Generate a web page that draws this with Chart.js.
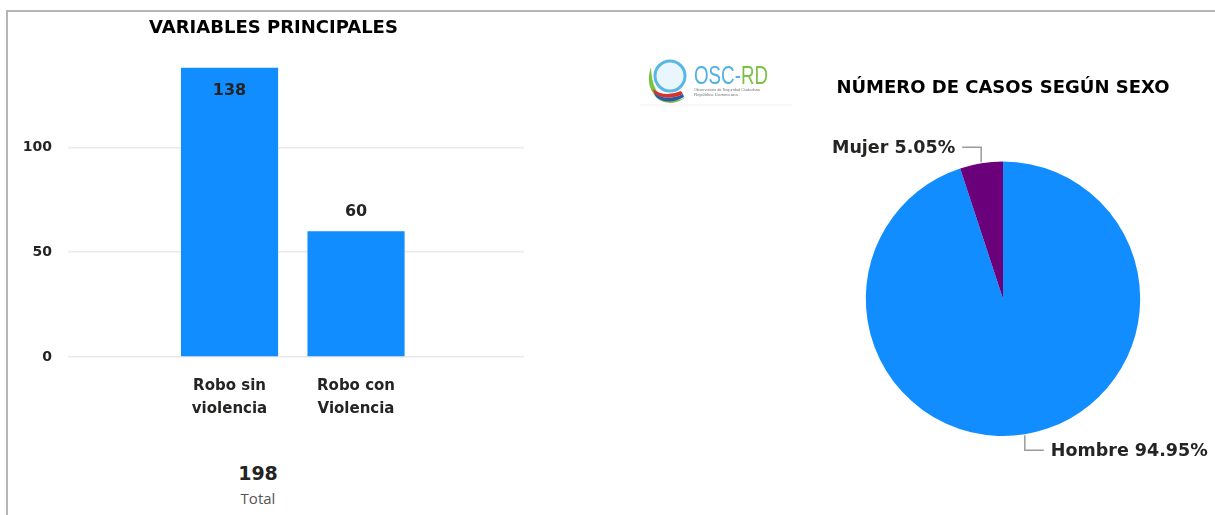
<!DOCTYPE html>
<html>
<head>
<meta charset="utf-8">
<script src="https://cdn.jsdelivr.net/npm/chart.js@4/dist/chart.umd.min.js"></script>
<style>
  html, body { margin: 0; padding: 0; background: #fff; }
  body { width: 1215px; height: 515px; position: relative; overflow: hidden; font-family: "DejaVu Sans", sans-serif; }
  #frame { position: absolute; left: 6px; top: 10px; width: 1220px; height: 520px; border-top: 2px solid #b5b5b5; border-left: 2px solid #b5b5b5; }
  #barBox { position: absolute; left: 8px; top: 12px; width: 528px; height: 443px; }
  #pieBox { position: absolute; left: 560px; top: 12px; width: 655px; height: 503px; }
  #kpi { position: absolute; left: 198px; top: 460px; width: 120px; text-align: center; }
  #kpiValue { font: bold 19px "DejaVu Sans", sans-serif; color: #252423; line-height: 26px; }
  #kpiLabel { font: 15px "Open Sans", sans-serif; color: #555; line-height: 24px; }
  #logo { position: absolute; left: 640px; top: 55px; width: 152px; height: 52px; }
</style>
</head>
<body>
<div id="frame"></div>
<div id="barBox"><canvas id="bar"></canvas></div>
<div id="pieBox"><canvas id="pie"></canvas></div>
<div id="kpi"><div id="kpiValue"></div><div id="kpiLabel">Total</div></div>
<svg id="logo" viewBox="0 0 152 52" xmlns="http://www.w3.org/2000/svg">
  <path d="M11 12 Q4 32 19 45 Q34 53 48 40 Q41 47 28 45 Q12 40 11 12 Z" fill="#7cc242"/>
  <path d="M13 34 Q24 43 41 36 L43 39 Q26 47 14 38 Z" fill="#d9312b"/>
  <path d="M14 38 Q26 47 43 39 L44 42 Q28 51 16 42 Z" fill="#2b59a8"/>
  <circle cx="30" cy="21" r="15" fill="#eaf6fd" stroke="#59b7e6" stroke-width="3"/>
  <text x="54" y="29" font-family="Liberation Sans Narrow, Liberation Sans, sans-serif" font-size="26" fill="#4fb0e3" textLength="74" lengthAdjust="spacingAndGlyphs">OSC-<tspan fill="#7cc242">RD</tspan></text>
  <text x="54" y="36" font-family="Liberation Sans, sans-serif" font-size="4" fill="#777" textLength="66" lengthAdjust="spacingAndGlyphs">Observatorio de Seguridad Ciudadana</text>
  <text x="54" y="41" font-family="Liberation Sans, sans-serif" font-size="4" fill="#777" textLength="44" lengthAdjust="spacingAndGlyphs">República Dominicana</text>
  <line x1="0" y1="50" x2="152" y2="50" stroke="#f0f0f0" stroke-width="1"/>
</svg>
<script>
// ---- data ----
const categories = ['Robo sin violencia', 'Robo con Violencia'];
const caseValues = [138, 60];
const yTickValues = [0, 50, 100];
const sexLabels = ['Hombre', 'Mujer'];
const sexPercents = [94.95, 5.05];
const totalCases = 198;

const barTitle = 'VARIABLES PRINCIPALES';
const pieTitle = 'NÚMERO DE CASOS SEGÚN SEXO';
const barColor = '#118DFF';
const sexColors = ['#118DFF', '#6B007B'];

document.getElementById('kpiValue').textContent = String(totalCases);

function splitLabel(s) {
  const i = s.lastIndexOf(' ');
  return i > 0 ? [s.slice(0, i), s.slice(i + 1)] : s;
}

const boldFont = (size) => ({ family: '"DejaVu Sans", sans-serif', size: size, weight: 'bold' });

// bar value labels
const barValueLabels = {
  id: 'barValueLabels',
  afterDatasetsDraw(chart) {
    const ctx = chart.ctx;
    const meta = chart.getDatasetMeta(0);
    const area = chart.chartArea;
    ctx.save();
    ctx.font = 'bold 16px "DejaVu Sans", sans-serif';
    ctx.fillStyle = '#252423';
    ctx.textAlign = 'center';
    ctx.textBaseline = 'middle';
    meta.data.forEach((el, i) => {
      const v = chart.data.datasets[0].data[i].y;
      let y = el.y - 19;
      if (y - 10 < area.top) y = el.y + 23;
      ctx.fillText(String(v), el.x, y);
    });
    ctx.restore();
  }
};

new Chart(document.getElementById('bar'), {
  type: 'bar',
  data: {
    datasets: [{
      data: categories.map((c, i) => ({ x: i, y: caseValues[i] })),
      backgroundColor: barColor,
      borderWidth: 0,
      barPercentage: 0.96,
      categoryPercentage: 0.8
    }]
  },
  options: {
    responsive: true,
    maintainAspectRatio: false,
    animation: false,
    events: [],
    layout: { padding: { left: 15, right: 12, top: 0, bottom: 17 } },
    plugins: {
      legend: { display: false },
      tooltip: { enabled: false },
      title: {
        display: true,
        text: barTitle,
        color: '#000',
        font: boldFont(18),
        padding: { top: 6, bottom: 24 }
      }
    },
    scales: {
      x: {
        type: 'linear',
        offset: false,
        bounds: 'data',
        min: -1.277,
        max: 2.328,
        grid: { display: false, drawTicks: false },
        border: { display: false },
        afterBuildTicks: (s) => { s.ticks = categories.map((c, i) => ({ value: i })); },
        afterFit: (s) => { s.paddingLeft = 0; s.paddingRight = 0; },
        ticks: {
          autoSkip: false,
          maxRotation: 0,
          padding: 18,
          color: '#252423',
          font: { family: '"DejaVu Sans", sans-serif', size: 15, weight: 'bold', lineHeight: 1.5 },
          callback: (v) => (Number.isInteger(v) && categories[v] !== undefined) ? splitLabel(categories[v]) : ''
        }
      },
      y: {
        min: 0,
        max: 140,
        grid: { color: '#e9e9e9', lineWidth: 1.5, drawTicks: false },
        border: { display: false },
        afterBuildTicks: (s) => { s.ticks = yTickValues.map(v => ({ value: v })); },
        afterFit: (s) => { s.width = 45; },
        ticks: {
          padding: 16,
          color: '#252423',
          font: boldFont(14)
        }
      }
    }
  },
  plugins: [barValueLabels]
});

// pie labels with leader lines
const pieLabels = {
  id: 'pieLabels',
  afterDatasetsDraw(chart) {
    const ctx = chart.ctx;
    const meta = chart.getDatasetMeta(0);
    ctx.save();
    ctx.font = 'bold 17.5px "DejaVu Sans", sans-serif';
    ctx.textBaseline = 'middle';
    meta.data.forEach((arc, i) => {
      const mid = (arc.startAngle + arc.endAngle) / 2;
      const r = arc.outerRadius;
      const cx = arc.x, cy = arc.y;
      const px = cx + Math.cos(mid) * (r + 1);
      const py = cy + Math.sin(mid) * (r + 1);
      const dy = Math.sin(mid) >= 0 ? 1 : -1;
      const dx = Math.cos(mid) >= 0 ? 1 : -1;
      const ky = py + dy * 15;
      const ex = px + dx * 19;
      ctx.strokeStyle = '#9a9a9a';
      ctx.lineWidth = 1.5;
      ctx.beginPath();
      ctx.moveTo(px, py);
      ctx.lineTo(px, ky);
      ctx.lineTo(ex, ky);
      ctx.stroke();
      ctx.fillStyle = '#252423';
      ctx.textAlign = dx > 0 ? 'left' : 'right';
      const txt = chart.data.labels[i] + ' ' + chart.data.datasets[0].data[i].toFixed(2) + '%';
      ctx.fillText(txt, ex + dx * 7, ky + 1);
    });
    ctx.restore();
  }
};

new Chart(document.getElementById('pie'), {
  type: 'pie',
  data: {
    labels: sexLabels,
    datasets: [{
      data: sexPercents,
      backgroundColor: sexColors,
      borderWidth: 0
    }]
  },
  options: {
    responsive: true,
    maintainAspectRatio: false,
    animation: false,
    events: [],
    layout: { padding: { left: 266, right: 35, top: 57, bottom: 79 } },
    plugins: {
      legend: { display: false },
      tooltip: { enabled: false },
      title: {
        display: true,
        text: pieTitle,
        color: '#000',
        font: boldFont(18),
        padding: { top: 9, bottom: 62 }
      }
    }
  },
  plugins: [pieLabels]
});
</script>
</body>
</html>
